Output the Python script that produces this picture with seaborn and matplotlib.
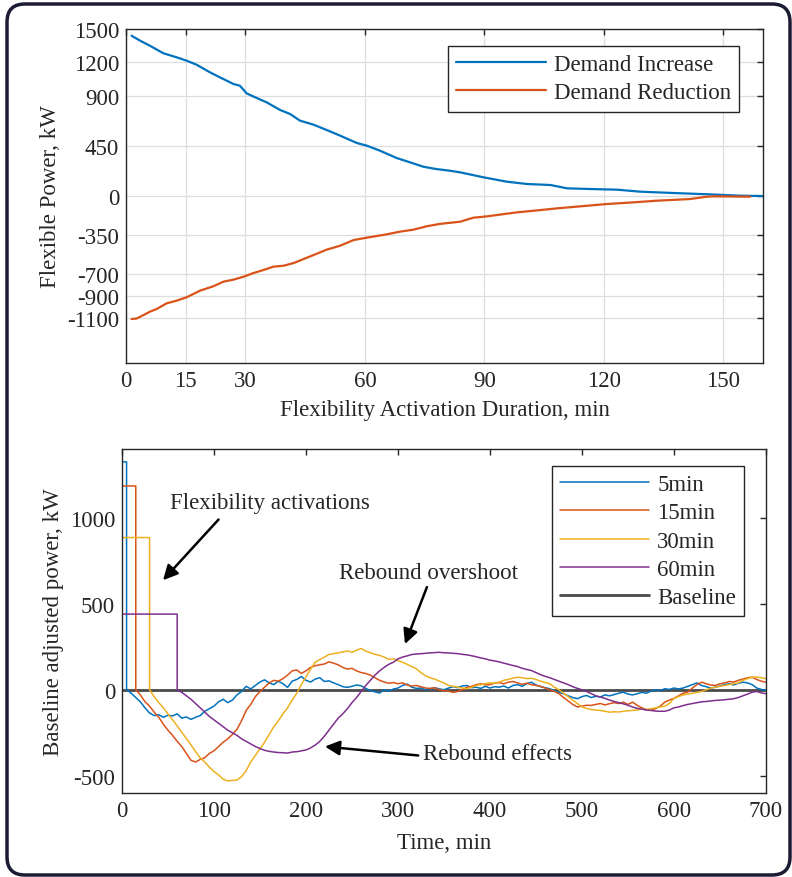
import numpy as np
import pandas as pd
import matplotlib
matplotlib.use('Agg')
import matplotlib.pyplot as plt
import seaborn as sns
from matplotlib.patches import FancyBboxPatch

# ---- top panel: flexible power vs activation duration ----
inc_minutes = [1.4, 3.5, 6.0, 9.4, 12.7, 15.2, 17.7, 21.1, 23.6, 27.0, 28.6, 30.3, 32.8,
               35.3, 38.7, 41.2, 43.7, 47.1, 50.4, 53.8, 58.0, 60.5, 63.8, 68.0, 71.4,
               74.7, 78.0, 81.4, 83.9, 89.8, 95.6, 100.7, 106.6, 110.8, 116.6, 123.3,
               129.2, 137.6, 144.3, 148.5, 154.3, 160.0]
inc_power = [1440, 1396, 1350, 1282, 1246, 1216, 1180, 1111, 1066, 1006, 991, 922, 881,
             842, 773, 737, 677, 641, 593, 542, 476, 452, 407, 341, 302,
             263, 242, 227, 213, 168, 129, 108, 99, 69, 63, 57,
             39, 27, 18, 12, 3, 0]

red_minutes = [1.4, 2.7, 4.4, 6.0, 7.7, 10.2, 12.7, 15.2, 18.6, 21.9, 24.5, 27.0, 29.5,
               32.0, 34.5, 37.0, 39.6, 42.1, 44.6, 47.1, 50.4, 53.8, 57.2, 60.5, 65.5,
               68.8, 72.2, 75.5, 78.9, 83.9, 87.2, 90.6, 98.1, 103.0, 108.2, 114.0,
               120.7, 127.4, 133.3, 141.7, 145.9, 147.6, 156.8]
red_power = [-1105, -1100, -1069, -1039, -1015, -964, -940, -910, -850, -811, -769, -751, -725,
             -692, -665, -635, -626, -602, -566, -530, -482, -446, -395, -374, -344,
             -320, -302, -272, -250, -231, -195, -183, -147, -130, -111, -93,
             -72, -57, -42, -27, -6, -3, -6]

dur_ticks = [0, 15, 30, 60, 90, 120, 150]
power_ticks = [-1100, -900, -700, -350, 0, 450, 900, 1200, 1500]

# ---- bottom panel: baseline adjusted power after activation ----
act_labels = ['5min', '15min', '30min', '60min']
act_duration = [5, 15, 30, 60]
act_power = [1325, 1185, 885, 440]

rebound_5 = [0, -20, -45, -70, -105, -135, -150, -145, -160, -148, -152, -140, -165, -158,
             -172, -160, -150, -125, -110, -95, -70, -55, -75, -60, -30, -10, 20, 5, 25,
             45, 58, 40, 30, 50, 35, 14, 50, 60, 77, 55, 45, 62, 70, 48, 52, 40, 30, 18,
             14, 20, 28, 23, 8, -5, -12, -19, 0, -8, 4, 10, 25, 33, 15, 8, 10, 0, 6, 12,
             5, 0, 10, 18, 12, 22, 25, 12, 15, 8, 20, 10, 18, 15, 22, 10, 25, 30, 20, 35,
             44, 28, 18, 12, 6, -5, -15, -23, -35, -45, -52, -40, -33, -45, -38, -42, -30,
             -35, -28, -20, -14, -25, -30, -23, -15, -20, -8, 0, -5, 6, 2, 10, 5, 10, 20,
             30, 40, 25, 18, 10, 15, 22, 30, 35, 28, 38, 44, 40, 30, 10, 2, -4]
rebound_15 = [0, -30, -70, -95, -130, -160, -200, -235, -265, -300, -330, -370, -410, -420,
              -405, -395, -370, -355, -330, -305, -285, -260, -230, -180, -120, -85, -40,
              -10, 15, 40, 55, 50, 65, 85, 110, 115, 95, 110, 130, 140, 145, 150, 162, 155,
              145, 130, 120, 125, 110, 100, 95, 85, 70, 55, 45, 38, 42, 35, 40, 28, 22, 25,
              18, 10, 8, 12, 0, -5, -8, -15, -10, 0, 15, 20, 30, 35, 28, 30, 38, 42, 35, 44,
              48, 40, 32, 38, 30, 25, 20, 10, 0, -10, -23, -45, -65, -85, -100, -95, -90,
              -91, -85, -80, -88, -81, -75, -80, -72, -85, -72, -90, -105, -115, -120, -110,
              -95, -72, -60, -50, -35, -20, -14, 10, 30, 44, 35, 28, 25, 35, 40, 48, 45, 55,
              62, 70, 73, 60, 50, 44]
rebound_30 = [0, -40, -75, -105, -140, -175, -210, -247, -285, -320, -360, -395, -420, -450,
              -475, -495, -520, -530, -527, -525, -505, -470, -420, -382, -345, -305, -260,
              -215, -180, -140, -105, -60, -20, 30, 75, 120, 160, 175, 190, 205, 210, 215,
              220, 226, 218, 230, 240, 225, 215, 206, 200, 190, 177, 180, 170, 160, 148, 135,
              122, 100, 81, 70, 62, 50, 40, 25, 20, 15, 10, 6, 15, 25, 30, 35, 40, 38, 44,
              55, 60, 68, 73, 70, 65, 67, 60, 50, 42, 35, 15, 0, -20, -40, -60, -80, -100,
              -108, -115, -118, -120, -125, -130, -128, -129, -125, -122, -120, -118, -112,
              -115, -110, -105, -100, -95, -80, -50, -40, -30, -25, -20, -15, -10, 0, 10, 15,
              20, 25, 30, 35, 40, 55, 65, 73, 75, 70, 64]
rebound_60 = [0, -15, -35, -55, -80, -105, -130, -155, -175, -195, -215, -235, -250, -265,
              -285, -300, -315, -330, -342, -352, -358, -362, -365, -366, -368, -362, -360,
              -355, -350, -338, -322, -300, -270, -235, -200, -165, -140, -110, -75, -45,
              -10, 25, 55, 85, 110, 130, 148, 160, 180, 190, 197, 205, 208, 210, 212, 215,
              216, 218, 215, 214, 212, 210, 206, 203, 198, 192, 185, 180, 172, 168, 162, 155,
              148, 141, 135, 125, 118, 112, 100, 88, 78, 70, 60, 50, 40, 30, 18, 8, 0, -10,
              -22, -35, -42, -50, -60, -68, -75, -82, -90, -100, -108, -112, -118, -120, -124,
              -125, -125, -118, -105, -100, -92, -85, -80, -75, -70, -68, -65, -62, -60, -58,
              -55, -52, -45, -35, -25, -14, -10, -18, -23]
rebound_tails = [rebound_5, rebound_15, rebound_30, rebound_60]

time_ticks = [0, 100, 200, 300, 400, 500, 600, 700]
adj_ticks = [-500, 0, 500, 1000]

colors = ['#0072BD', '#D95319', '#EDB120', '#7E2F8E']
text_col = '#262626'

sns.set_theme(style='white')
plt.rcParams['font.family'] = ['Liberation Serif', 'DejaVu Serif']
plt.rcParams['font.size'] = 16
plt.rcParams['axes.unicode_minus'] = False

fig = plt.figure(figsize=(7.92, 8.78), dpi=100)
ax1 = fig.add_axes([0.1591, 0.5854, 0.8043, 0.3804])
ax2 = fig.add_axes([0.1540, 0.0957, 0.8131, 0.3918])

# top panel
inc_df = pd.DataFrame({'duration': inc_minutes, 'power': inc_power})
red_df = pd.DataFrame({'duration': red_minutes, 'power': red_power})
sns.lineplot(data=inc_df, x='duration', y='power', ax=ax1, color=colors[0], lw=1.6,
             label='Demand Increase', sort=False, estimator=None)
sns.lineplot(data=red_df, x='duration', y='power', ax=ax1, color=colors[1], lw=1.6,
             label='Demand Reduction', sort=False, estimator=None)
ax1.set_xlim(0, 160)
ax1.set_ylim(-1500, 1500)
ax1.set_xticks(dur_ticks)
ax1.set_yticks(power_ticks)
ax1.grid(True, color='#dedede', lw=0.9)
ax1.set_xlabel('Flexibility Activation Duration, min', fontsize=16.5, color=text_col, labelpad=6)
ax1.set_ylabel('Flexible Power, kW', fontsize=16.5, color=text_col, labelpad=4)
leg1 = ax1.legend(loc='upper right', bbox_to_anchor=(0.962, 0.949), fontsize=16.5,
                  frameon=True, fancybox=False, edgecolor='#262626', framealpha=1,
                  handlelength=3.9, handletextpad=0.35, labelspacing=0.32,
                  borderpad=0.35, borderaxespad=0)
leg1.get_frame().set_linewidth(1.0)

# bottom panel
for lab, dur, pw, tail, col in zip(act_labels, act_duration, act_power, rebound_tails, colors):
    tail_t = list(range(dur, 705, 5))
    t = [0, 0, dur] + tail_t
    v = [0, pw, pw] + tail
    df = pd.DataFrame({'time': t, 'power': v})
    sns.lineplot(data=df, x='time', y='power', ax=ax2, color=col, lw=1.1,
                 label=lab, sort=False, estimator=None)
ax2.axhline(0, color='#4a4a4a', lw=2.0, label='Baseline', zorder=1)
ax2.set_xlim(0, 700)
ax2.set_ylim(-600, 1400)
ax2.set_xticks(time_ticks)
ax2.set_yticks(adj_ticks)
ax2.set_xlabel('Time, min', fontsize=16.5, color=text_col, labelpad=8)
ax2.set_ylabel('Baseline adjusted power, kW', fontsize=16.5, color=text_col, labelpad=4)
leg2 = ax2.legend(loc='upper right', bbox_to_anchor=(0.966, 0.951), fontsize=16.5,
                  frameon=True, fancybox=False, edgecolor='#262626', framealpha=1,
                  handlelength=3.9, handletextpad=0.35, labelspacing=0.32,
                  borderpad=0.35, borderaxespad=0)
leg2.get_frame().set_linewidth(1.0)

arrow = dict(arrowstyle='-|>', color='black', lw=1.8, mutation_scale=22, shrinkA=0, shrinkB=0)
ax2.annotate('Flexibility activations', xy=(44.6, 637), xytext=(161, 1089),
             ha='center', va='center', fontsize=16.5, color=text_col)
ax2.annotate('', xy=(44.6, 637), xytext=(105, 990), arrowprops=arrow)
ax2.annotate('Rebound overshoot', xy=(307.6, 266), xytext=(333, 684),
             ha='center', va='center', fontsize=16.5, color=text_col)
ax2.annotate('', xy=(307.6, 266), xytext=(331.5, 597), arrowprops=arrow)
ax2.annotate('Rebound effects', xy=(220.6, -330), xytext=(327, -371),
             ha='left', va='center', fontsize=16.5, color=text_col)
ax2.annotate('', xy=(220.6, -330), xytext=(322, -382), arrowprops=arrow)

for ax in (ax1, ax2):
    ax.tick_params(direction='in', top=True, right=True, length=4, width=1,
                   labelsize=16.5, labelcolor=text_col, color='#262626', pad=5)
    for s in ax.spines.values():
        s.set_color('#262626')
        s.set_linewidth(1.0)

# rounded outer frame
frame = FancyBboxPatch((7, 2), 783, 871, boxstyle='round,pad=0,rounding_size=18',
                       fill=False, ec='#1b1b33', lw=2.5, transform=None)
fig.patches.append(frame)

fig.savefig('out.png', dpi=100)
